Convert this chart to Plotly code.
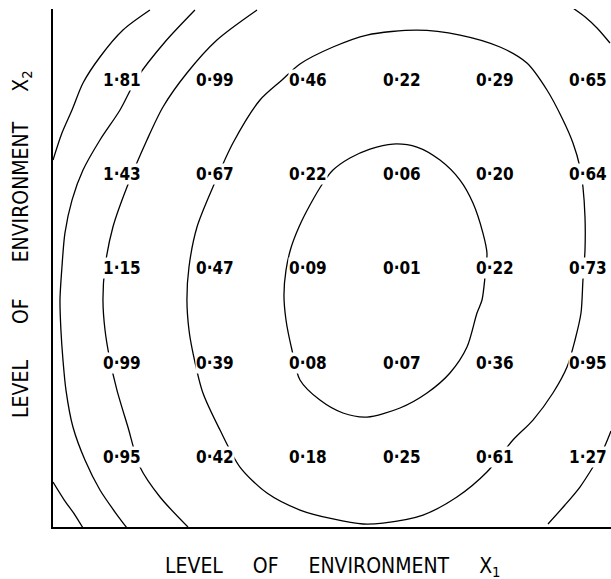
import plotly.graph_objects as go

# Grid of observed values: columns are levels of X1 (1..6), rows are levels of X2
x1_levels = [1, 2, 3, 4, 5, 6]
x2_levels = [5, 4, 3, 2, 1]
row_x2_5 = [1.81, 0.99, 0.46, 0.22, 0.29, 0.65]
row_x2_4 = [1.43, 0.67, 0.22, 0.06, 0.20, 0.64]
row_x2_3 = [1.15, 0.47, 0.09, 0.01, 0.22, 0.73]
row_x2_2 = [0.99, 0.39, 0.08, 0.07, 0.36, 0.95]
row_x2_1 = [0.95, 0.42, 0.18, 0.25, 0.61, 1.27]
grid_rows = [row_x2_5, row_x2_4, row_x2_3, row_x2_2, row_x2_1]

# Hand-drawn iso-response lines (data units of the two environment levels)
outer_ul_x = [1.300, 1.011, 0.764, 0.582, 0.464, 0.356, 0.260]
outer_ul_y = [5.740, 5.528, 5.242, 4.966, 4.680, 4.436, 4.149]

outer_ll_x = [0.260, 0.381, 0.496, 0.582]
outer_ll_y = [0.735, 0.544, 0.385, 0.247]

second_x = [1.783, 1.461, 1.161, 0.979, 0.764, 0.582, 0.464, 0.388, 0.356, 0.335,
            0.345, 0.367, 0.399, 0.474, 0.603, 0.764, 0.925, 1.054]
second_y = [5.740, 5.401, 5.019, 4.680, 4.362, 4.043, 3.725, 3.375, 3.015, 2.665,
            2.347, 2.029, 1.710, 1.318, 0.968, 0.650, 0.417, 0.247]

third_x = [2.449, 2.019, 1.697, 1.440, 1.268, 1.054, 0.903, 0.818, 0.796, 0.818,
           0.871, 0.946, 1.064, 1.193, 1.408, 1.708]
third_y = [5.740, 5.422, 5.072, 4.712, 4.362, 3.863, 3.439, 3.015, 2.665, 2.347,
           2.029, 1.710, 1.318, 0.894, 0.576, 0.258]

third_tr_x = [5.839, 5.970, 6.097, 6.236]
third_tr_y = [5.761, 5.666, 5.549, 5.390]

third_br_x = [6.247, 6.161, 6.054, 5.914, 5.753, 5.571]
third_br_y = [1.276, 1.074, 0.894, 0.682, 0.491, 0.290]

middle_x = [3.264, 2.910, 2.717, 2.481, 2.191, 1.976, 1.805, 1.719, 1.697, 1.719,
            1.762, 1.869, 2.052, 2.266, 2.556, 2.910, 3.264, 3.586, 3.800, 4.230,
            4.594, 4.916, 5.195, 5.410, 5.624, 5.775, 5.861, 5.925, 5.946, 5.968,
            5.968, 5.946, 5.914, 5.839, 5.732, 5.560, 5.345, 5.056, 4.627, 4.165,
            3.629, 3.264]
middle_y = [5.348, 5.168, 4.998, 4.786, 4.330, 3.863, 3.439, 3.015, 2.665, 2.347,
            2.103, 1.679, 1.286, 0.894, 0.618, 0.438, 0.343, 0.290, 0.300, 0.385,
            0.576, 0.841, 1.180, 1.392, 1.679, 1.954, 2.241, 2.527, 2.877, 3.195,
            3.545, 3.863, 4.075, 4.330, 4.574, 4.892, 5.178, 5.348, 5.475, 5.528,
            5.475, 5.348]

inner_x = [3.908, 3.661, 3.446, 3.264, 3.157, 3.017, 2.899, 2.813, 2.760, 2.738,
           2.760, 2.824, 2.910, 3.124, 3.371, 3.629, 3.983, 4.273, 4.519, 4.702,
           4.809, 4.863, 4.895, 4.916, 4.873, 4.766, 4.627, 4.412, 4.165, 3.908]
inner_y = [4.319, 4.266, 4.171, 4.043, 3.906, 3.672, 3.439, 3.216, 2.983, 2.718,
           2.453, 2.135, 1.817, 1.604, 1.467, 1.424, 1.520, 1.679, 1.891, 2.166,
           2.527, 2.665, 2.909, 3.163, 3.375, 3.694, 3.937, 4.149, 4.287, 4.319]

contour_paths = [
    (outer_ul_x, outer_ul_y), (outer_ll_x, outer_ll_y),
    (second_x, second_y),
    (third_x, third_y), (third_tr_x, third_tr_y), (third_br_x, third_br_y),
    (middle_x, middle_y),
    (inner_x, inner_y),
]

FONT = "DejaVu Sans Condensed, DejaVu Sans, sans-serif"

fig = go.Figure()
for cx, cy in contour_paths:
    fig.add_trace(go.Scatter(
        x=cx, y=cy, mode="lines",
        line=dict(color="black", width=1.3, shape="spline", smoothing=0.8),
        hoverinfo="skip", showlegend=False,
    ))

# Value labels sit on a white box so the lines break around them
annotations = []
for x2, row in zip(x2_levels, grid_rows):
    for x1, v in zip(x1_levels, row):
        annotations.append(dict(
            x=x1, y=x2, xref="x", yref="y",
            text=f"{v:.2f}".replace(".", "·"),
            showarrow=False, bgcolor="white", borderpad=0,
            font=dict(family=FONT, size=17, color="black", weight=700),
        ))

gap = "\u00a0" * 5
annotations.append(dict(
    x=0.5, y=-0.077, xref="paper", yref="paper",
    text=f"LEVEL{gap}OF{gap}ENVIRONMENT{gap}X<sub>1</sub>",
    showarrow=False, xanchor="center", yanchor="middle",
    font=dict(family=FONT, size=21, color="black"),
))
gap_y = "\u00a0" * 6
annotations.append(dict(
    x=-0.056, y=0.546, xref="paper", yref="paper",
    text=f"LEVEL{gap_y}OF{gap_y}ENVIRONMENT{gap}X<sub>2</sub>",
    showarrow=False, xanchor="center", yanchor="middle", textangle=-90,
    font=dict(family=FONT, size=21, color="black"),
))

axis_style = dict(
    showline=True, linecolor="black", linewidth=2, mirror=False,
    showgrid=False, zeroline=False, showticklabels=False, ticks="",
    fixedrange=True,
)
fig.update_layout(
    width=611, height=579,
    margin=dict(l=53, r=0, t=9, b=52),
    paper_bgcolor="white", plot_bgcolor="white",
    xaxis=dict(range=[0.260, 6.247], **axis_style),
    yaxis=dict(range=[0.258, 5.751], **axis_style),
    annotations=annotations,
    showlegend=False,
)

fig.write_html("out.html")
